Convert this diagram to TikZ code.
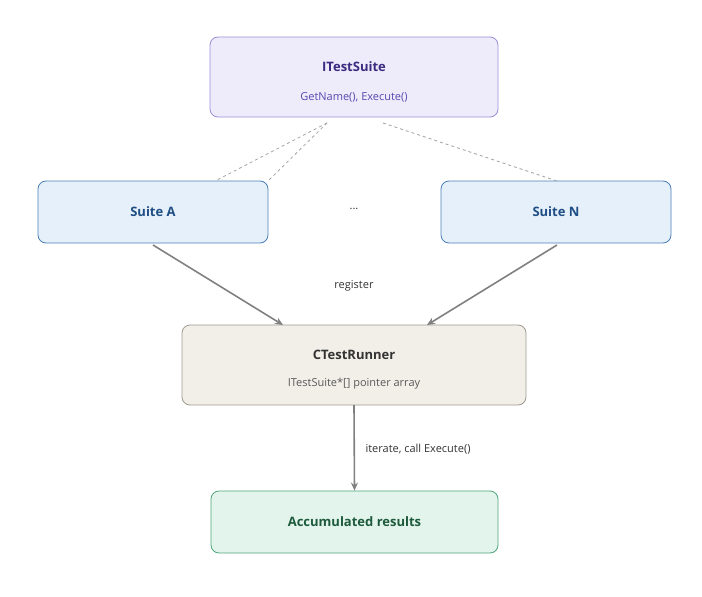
\documentclass[tikz,border=0pt]{standalone}
\usepackage{fontspec}
\setmainfont{Open Sans}
\usetikzlibrary{arrows.meta}
\definecolor{ifill}{HTML}{EEEBFB}\definecolor{idraw}{HTML}{9C8FD8}\definecolor{itxt}{HTML}{3B2A80}\definecolor{isub}{HTML}{5A48B0}
\definecolor{sfill}{HTML}{E6F0FA}\definecolor{sdraw}{HTML}{4A7FB8}\definecolor{stxt}{HTML}{1F4E85}
\definecolor{rfill}{HTML}{F2EFE9}\definecolor{rdraw}{HTML}{A09A90}
\definecolor{afill}{HTML}{E3F4EC}\definecolor{adraw}{HTML}{4FA57D}\definecolor{atxt}{HTML}{1E5A3C}
\definecolor{arr}{HTML}{808080}
\begin{document}
\begin{tikzpicture}[x=1pt,y=-1pt,
 box/.style={rounded corners=8pt,line width=0.8pt,inner sep=0pt},
 ttl/.style={font=\fontsize{13}{15}\selectfont\bfseries},
 sub/.style={font=\fontsize{11}{13}\selectfont},
 conn/.style={draw=arr,line width=1.6pt,-{Stealth[length=8pt,width=7pt]}},
 lbl/.style={font=\fontsize{11}{13}\selectfont,text=black!80}]
\useasboundingbox (0,0) rectangle (702,597);
\path[box,fill=ifill,draw=idraw] (210,37) rectangle (498,117);
\node[ttl,text=itxt] (i) at (354,67) {ITestSuite};
\node[sub,text=isub] (is) at (354,97) {GetName(), Execute()};
\node[box,fill=sfill,draw=sdraw,minimum width=230pt,minimum height=62pt,ttl,text=stxt] (a) at (153,212) {Suite A};
\node[box,fill=sfill,draw=sdraw,minimum width=230pt,minimum height=62pt,ttl,text=stxt] (n) at (556,212) {Suite N};
\node[lbl] (dots) at (354,209) {...};
\path[box,fill=rfill,draw=rdraw] (182,325) rectangle (526,405);
\node[ttl,text=black!80] (r) at (354,355) {CTestRunner};
\node[sub,text=black!65] (rs) at (354,384) {ITestSuite*[] pointer array};
\node[box,fill=afill,draw=adraw,minimum width=287pt,minimum height=62pt,ttl,text=atxt] (acc) at (354.5,522) {Accumulated results};
\coordinate (t1) at (327,123); \coordinate (t2) at (383,123);
\draw[arr!70,dashed,line width=0.8pt] (t1) -- (a.north east) ++(0,0);
\draw[arr!70,dashed,line width=0.8pt] (t1) -- (215,181);
\draw[arr!70,dashed,line width=0.8pt] (t2) -- (557,181);
\coordinate (ab) at (153,245); \coordinate (nb) at (557,245);
\coordinate (r1) at (283,325); \coordinate (r2) at (427,325);
\draw[conn] (ab) -- (r1);
\draw[conn] (nb) -- (r2);
\node[lbl] at (354,286) {register};
\coordinate (rb) at (354,405);
\draw[conn] (rb) -- (acc.north);
\node[lbl,anchor=west] at (362,449) {iterate, call Execute()};
\end{tikzpicture}
\end{document}
